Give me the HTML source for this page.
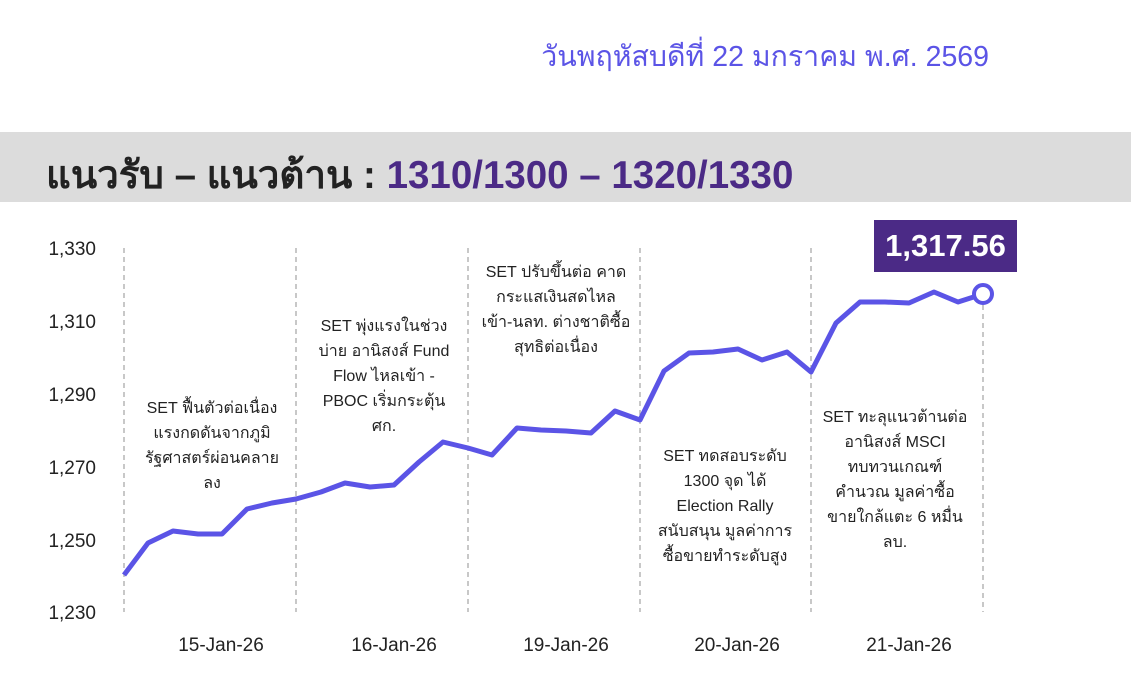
<!DOCTYPE html>
<html><head><meta charset="utf-8"><style>
body{margin:0;width:1131px;height:696px;background:#fff;overflow:hidden;font-family:"Liberation Sans","Noto Sans CJK SC",sans-serif;position:relative}
.date{position:absolute;right:142px;top:33px;font-size:28.5px;color:#5b54e6}
.band{position:absolute;left:0;top:132px;width:1131px;height:70px;background:#dcdcdc}
.band div{position:absolute;left:46px;top:12px;font-size:38.5px;font-weight:bold;color:#222;white-space:nowrap}
.band span{color:#4b2a86}
.box{position:absolute;left:874px;top:220px;width:143px;height:52px;background:#4b2a86;color:#fff;font-size:31px;font-weight:bold;text-align:center;line-height:52px}
</style></head><body>
<div class="date">วันพฤหัสบดีที่ 22 มกราคม พ.ศ. 2569</div>
<div class="band"><div>แนวรับ – แนวต้าน : <span>1310/1300 – 1320/1330</span></div></div>
<svg width="1131" height="696" style="position:absolute;left:0;top:0">
<g stroke="#aaa" stroke-dasharray="5,4" stroke-width="1.3">
<line x1="124" y1="248" x2="124" y2="612"/><line x1="296" y1="248" x2="296" y2="612"/><line x1="468" y1="248" x2="468" y2="612"/><line x1="640" y1="248" x2="640" y2="612"/><line x1="811" y1="248" x2="811" y2="612"/><line x1="983" y1="296" x2="983" y2="612"/>
</g>
<g font-size="19" fill="#222" text-anchor="end">
<text x="96" y="255">1,330</text><text x="96" y="328">1,310</text><text x="96" y="401">1,290</text><text x="96" y="474">1,270</text><text x="96" y="547">1,250</text><text x="96" y="619">1,230</text>
</g>
<g font-size="19" fill="#222" text-anchor="middle">
<text x="221" y="651">15-Jan-26</text><text x="394" y="651">16-Jan-26</text><text x="566" y="651">19-Jan-26</text><text x="737" y="651">20-Jan-26</text><text x="909" y="651">21-Jan-26</text>
</g>
<polyline fill="none" stroke="#5b54e6" stroke-width="5" stroke-linejoin="round" points="124,575 148,543 173,531 198,534 222,534 247,509 272,503 296,499 321,492 345,483 370,487 394,485 419,462 443,442 468,448 492,455 517,428 541,430 566,431 591,433 615,411 640,420 664,371 689,353 713,352 738,349 762,360 787,352 811,372 836,323 860,302 885,302 909,303 934,292 958,302 983,294"/>
<circle cx="983" cy="294" r="9" fill="#fff" stroke="#5b54e6" stroke-width="4"/>
<g font-size="16" fill="#222" text-anchor="middle">
<text x="212" y="413">SET ฟื้นตัวต่อเนื่อง</text><text x="212" y="438">แรงกดดันจากภูมิ</text><text x="212" y="463">รัฐศาสตร์ผ่อนคลาย</text><text x="212" y="488">ลง</text>
<text x="384" y="331">SET พุ่งแรงในช่วง</text><text x="384" y="356">บ่าย อานิสงส์ Fund</text><text x="384" y="381">Flow ไหลเข้า -</text><text x="384" y="406">PBOC เริ่มกระตุ้น</text><text x="384" y="431">ศก.</text>
<text x="556" y="277">SET ปรับขึ้นต่อ คาด</text><text x="556" y="302">กระแสเงินสดไหล</text><text x="556" y="327">เข้า-นลท. ต่างชาติซื้อ</text><text x="556" y="352">สุทธิต่อเนื่อง</text>
<text x="725" y="461">SET ทดสอบระดับ</text><text x="725" y="486">1300 จุด ได้</text><text x="725" y="511">Election Rally</text><text x="725" y="536">สนับสนุน มูลค่าการ</text><text x="725" y="561">ซื้อขายทำระดับสูง</text>
<text x="895" y="422">SET ทะลุแนวต้านต่อ</text><text x="895" y="447">อานิสงส์ MSCI</text><text x="895" y="472">ทบทวนเกณฑ์</text><text x="895" y="497">คำนวณ มูลค่าซื้อ</text><text x="895" y="522">ขายใกล้แตะ 6 หมื่น</text><text x="895" y="547">ลบ.</text>
</g>
</svg>
<div class="box">1,317.56</div>
</body></html>
